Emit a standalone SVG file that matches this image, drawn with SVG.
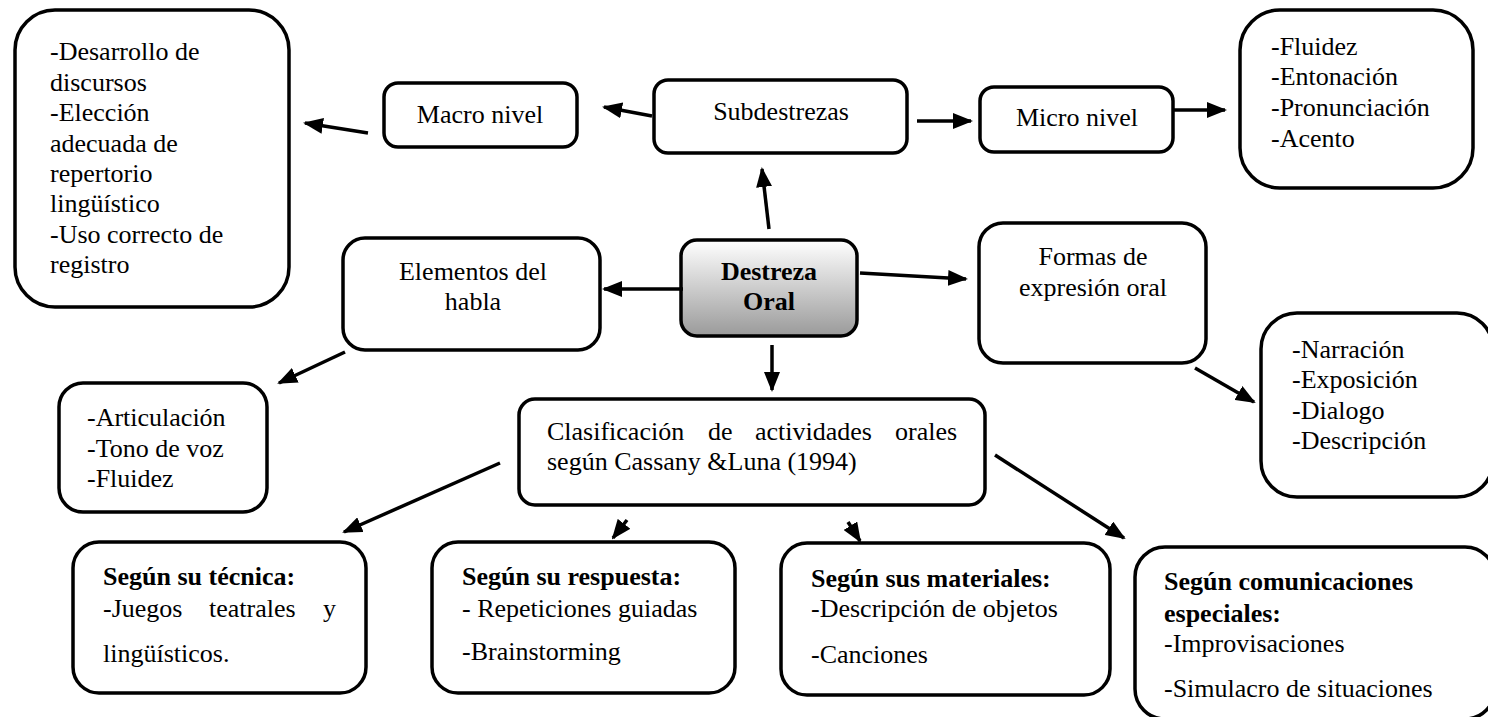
<svg xmlns="http://www.w3.org/2000/svg" width="1488" height="717" viewBox="0 0 1488 717">
<style>
.box{fill:#fff;stroke:#000;stroke-width:3.5}
.t{font-family:"Liberation Serif","Times New Roman",serif;font-size:26px;fill:#000}
.b{font-weight:bold}
.c{text-anchor:middle}
.conn line{stroke:#000;stroke-width:3.5;fill:none}
</style>
<defs>
<marker id="ah" viewBox="0 0 20 16" refX="18" refY="8" markerWidth="20" markerHeight="16" markerUnits="userSpaceOnUse" orient="auto">
<path d="M0,0 L20,8 L0,16 z" fill="#000"/>
</marker>
<linearGradient id="g" x1="0" y1="0" x2="0" y2="1">
<stop offset="0" stop-color="#ffffff"/>
<stop offset="1" stop-color="#9a9a9a"/>
</linearGradient>
</defs>
<rect width="1488" height="717" fill="#fff"/>

<g id="macro-list">
<rect class="box" x="15" y="10" width="274" height="297" rx="40"/>
<text class="t"><tspan x="50" y="60">-Desarrollo de</tspan><tspan x="50" y="91">discursos</tspan><tspan x="50" y="121">-Elección</tspan><tspan x="50" y="152">adecuada de</tspan><tspan x="50" y="182">repertorio</tspan><tspan x="50" y="212">lingüístico</tspan><tspan x="50" y="243">-Uso correcto de</tspan><tspan x="50" y="273">registro</tspan></text>
</g>

<g id="macro">
<rect class="box" x="384" y="83" width="193" height="64" rx="14"/>
<text class="t c" x="480" y="123">Macro nivel</text>
</g>

<g id="subdestrezas">
<rect class="box" x="654" y="80" width="253" height="73" rx="14"/>
<text class="t c" x="781" y="120">Subdestrezas</text>
</g>

<g id="micro">
<rect class="box" x="980" y="87" width="193" height="65" rx="14"/>
<text class="t c" x="1077" y="126">Micro nivel</text>
</g>

<g id="micro-list">
<rect class="box" x="1240" y="10" width="233" height="178" rx="40"/>
<text class="t"><tspan x="1271" y="55">-Fluidez</tspan><tspan x="1271" y="85">-Entonación</tspan><tspan x="1271" y="116">-Pronunciación</tspan><tspan x="1271" y="147">-Acento</tspan></text>
</g>

<g id="destreza">
<rect x="681" y="240" width="176" height="96" rx="16" fill="url(#g)" stroke="#000" stroke-width="3.5"/>
<text class="t b c" x="769" y="280">Destreza</text>
<text class="t b c" x="769" y="310">Oral</text>
</g>

<g id="elementos">
<rect class="box" x="343" y="238" width="257" height="112" rx="22"/>
<text class="t c" x="473" y="280">Elementos del</text>
<text class="t c" x="473" y="310">habla</text>
</g>

<g id="formas">
<rect class="box" x="979" y="223" width="227" height="140" rx="24"/>
<text class="t c" x="1093" y="265">Formas de</text>
<text class="t c" x="1093" y="296">expresión oral</text>
</g>

<g id="formas-list">
<rect class="box" x="1261" y="313" width="232" height="184" rx="36"/>
<text class="t"><tspan x="1292" y="358">-Narración</tspan><tspan x="1292" y="388">-Exposición</tspan><tspan x="1292" y="419">-Dialogo</tspan><tspan x="1292" y="449">-Descripción</tspan></text>
</g>

<g id="elementos-list">
<rect class="box" x="59" y="383" width="208" height="129" rx="24"/>
<text class="t"><tspan x="87" y="426">-Articulación</tspan><tspan x="87" y="457">-Tono de voz</tspan><tspan x="87" y="487">-Fluidez</tspan></text>
</g>

<g id="clasificacion">
<rect class="box" x="519" y="399" width="466" height="106" rx="16"/>
<text class="t" y="440"><tspan x="547">Clasificación</tspan><tspan x="708">de</tspan><tspan x="755">actividades</tspan><tspan x="895">orales</tspan></text>
<text class="t" x="547" y="470">según Cassany &amp;Luna (1994)</text>
</g>

<g id="tecnica">
<rect class="box" x="73" y="542" width="293" height="151" rx="26"/>
<text class="t b" x="103" y="585">Según su técnica:</text>
<text class="t" y="617"><tspan x="103">-Juegos</tspan><tspan x="209">teatrales</tspan><tspan x="323">y</tspan></text>
<text class="t" x="103" y="662">lingüísticos.</text>
</g>

<g id="respuesta">
<rect class="box" x="432" y="542" width="303" height="151" rx="26"/>
<text class="t b" x="462" y="585">Según su respuesta:</text>
<text class="t" x="462" y="617">- Repeticiones guiadas</text>
<text class="t" x="462" y="660">-Brainstorming</text>
</g>

<g id="materiales">
<rect class="box" x="781" y="543" width="329" height="152" rx="26"/>
<text class="t b" x="811" y="587">Según sus materiales:</text>
<text class="t" x="811" y="617">-Descripción de objetos</text>
<text class="t" x="811" y="663">-Canciones</text>
</g>

<g id="comunicaciones">
<rect class="box" x="1135" y="547" width="360" height="172" rx="30"/>
<text class="t b" x="1164" y="590">Según comunicaciones</text>
<text class="t b" x="1164" y="622">especiales:</text>
<text class="t" x="1164" y="652">-Improvisaciones</text>
<text class="t" x="1164" y="697">-Simulacro de situaciones</text>
</g>

<g id="connectors" class="conn">
<line x1="368" y1="133" x2="305" y2="123" marker-end="url(#ah)"/>
<line x1="652" y1="116" x2="604" y2="107" marker-end="url(#ah)"/>
<line x1="917" y1="121" x2="971" y2="121" marker-end="url(#ah)"/>
<line x1="1173" y1="110" x2="1225" y2="110" marker-end="url(#ah)"/>
<line x1="769" y1="229" x2="762" y2="169" marker-end="url(#ah)"/>
<line x1="683" y1="289" x2="604" y2="289" marker-end="url(#ah)"/>
<line x1="860" y1="273" x2="966" y2="279" marker-end="url(#ah)"/>
<line x1="1195" y1="368" x2="1254" y2="402" marker-end="url(#ah)"/>
<line x1="345" y1="352" x2="279" y2="383" marker-end="url(#ah)"/>
<line x1="772" y1="345" x2="772" y2="390" marker-end="url(#ah)"/>
<line x1="500" y1="463" x2="344" y2="532" marker-end="url(#ah)"/>
<line x1="627" y1="520" x2="613" y2="538" marker-end="url(#ah)"/>
<line x1="848" y1="522" x2="860" y2="541" marker-end="url(#ah)"/>
<line x1="995" y1="455" x2="1124" y2="538" marker-end="url(#ah)"/>
</g>
</svg>
